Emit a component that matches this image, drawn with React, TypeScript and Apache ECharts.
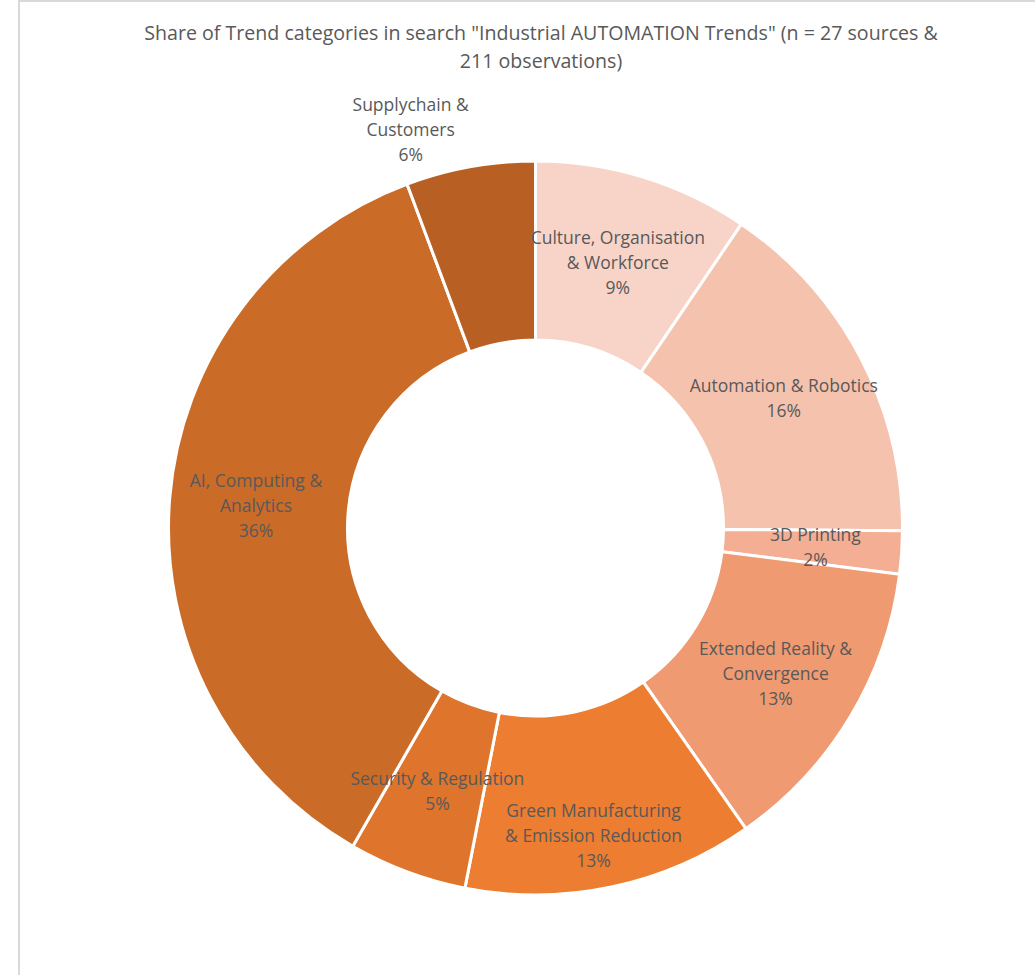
import React, { useEffect, useRef } from "react";
import * as echarts from "echarts";

const categories = [
  "Culture, Organisation & Workforce",
  "Automation & Robotics",
  "3D Printing",
  "Extended Reality & Convergence",
  "Green Manufacturing & Emission Reduction",
  "Security & Regulation",
  "AI, Computing & Analytics",
  "Supplychain & Customers",
];
const labelTexts = [
  "Culture, Organisation\n& Workforce",
  "Automation & Robotics",
  "3D Printing",
  "Extended Reality &\nConvergence",
  "Green Manufacturing\n& Emission Reduction",
  "Security & Regulation",
  "AI, Computing &\nAnalytics",
  "Supplychain &\nCustomers",
];
const observations = [20, 33, 4, 28, 27, 11, 76, 12];
const colors = ["#F8D4C8", "#F5C2AE", "#F3AE94", "#F09A72", "#ED7D31", "#DF742C", "#CB6B28", "#B86023"];
const labelOffsets: Record<number, [number, number]> = { 0: [0, 2], 4: [0, 33], 7: [-75, -123] };

export default function App() {
  const ref = useRef<HTMLDivElement>(null);
  useEffect(() => {
    document.body.style.margin = "0";
    const chart = echarts.init(ref.current!, null, { renderer: "svg" });
    chart.setOption({
      animation: false,
      backgroundColor: "#ffffff",
      title: {
        text: 'Share of Trend categories in search "Industrial AUTOMATION Trends" (n = 27 sources &\n211 observations)',
        left: 536,
        top: 13,
        textAlign: "center",
        textStyle: {
          fontFamily: "Open Sans",
          fontSize: 19.6,
          fontWeight: "normal",
          color: "#595959",
          lineHeight: 28,
        },
      },
      graphic: [
        {
          type: "rect",
          shape: { x: 19, y: 1, width: 1200, height: 1200 },
          style: { fill: "none", stroke: "#D9D9D9", lineWidth: 2 },
          silent: true,
        },
      ],
      series: [
        {
          type: "pie",
          center: [535.5, 528],
          radius: [188, 367],
          startAngle: 90,
          clockwise: true,
          percentPrecision: 0,
          avoidLabelOverlap: false,
          labelLayout: { hideOverlap: false },
          itemStyle: { borderColor: "#ffffff", borderWidth: 3 },
          label: {
            show: true,
            position: "inside",
            fontFamily: "Open Sans",
            fontSize: 17.5,
            color: "#595959",
            lineHeight: 25,
            align: "center",
            formatter: (p: any) => labelTexts[p.dataIndex] + "\n" + p.percent + "%",
          },
          labelLine: { show: false },
          emphasis: { disabled: true },
          data: categories.map((name, i) => ({
            name,
            value: observations[i],
            itemStyle: { color: colors[i] },
            label: labelOffsets[i] ? { offset: labelOffsets[i] } : undefined,
          })),
        },
      ],
    });
    return () => chart.dispose();
  }, []);
  return <div ref={ref} style={{ width: 1035, height: 975 }} />;
}
